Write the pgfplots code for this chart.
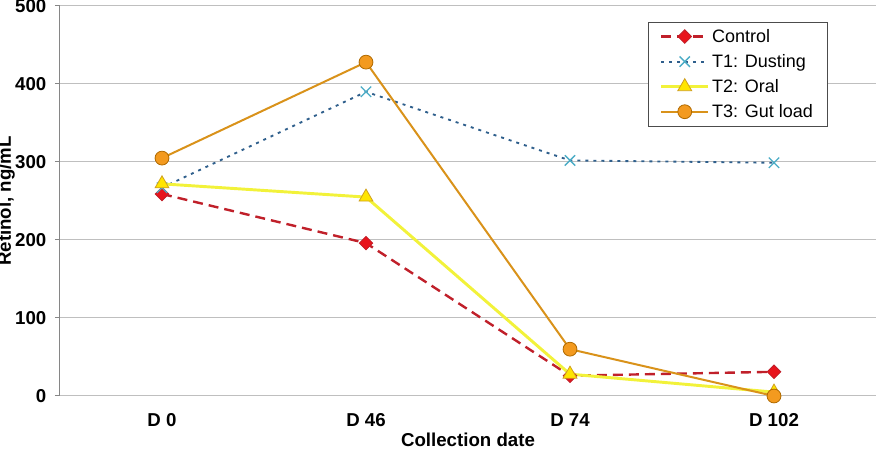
\documentclass[border=0pt]{standalone}
\usepackage{pgfplots}
\pgfplotsset{compat=1.18}
\usepackage{fontspec}
\setmainfont{Liberation Sans}
\definecolor{ctrlline}{HTML}{C0202A}
\definecolor{ctrlfill}{HTML}{E8141C}
\definecolor{tonel}{HTML}{2F5F8C}
\definecolor{tonem}{HTML}{4BACC6}
\definecolor{ttwol}{HTML}{F2F23A}
\definecolor{ttwof}{HTML}{FFE500}
\definecolor{ttwoe}{HTML}{D0A020}
\definecolor{tthrl}{HTML}{D9921A}
\definecolor{tthrf}{HTML}{F39A1F}
\definecolor{tthre}{HTML}{B06A00}
\definecolor{gridc}{HTML}{BFBFBF}
\definecolor{axc}{HTML}{868686}
\begin{document}
\begin{tikzpicture}
\begin{axis}[
  name=ax,
  scale only axis,
  width=612pt, height=292.5pt,
  xmin=0, xmax=4, ymin=0, ymax=500,
  xtick={0.5,1.5,2.5,3.5},
  xticklabels={D 0, D 46, D 74, D 102},
  ytick={0,100,200,300,400,500},
  axis y line*=left, axis x line*=bottom,
  x axis line style={draw=none},
  y axis line style={draw=axc, line width=0.75pt},
  ymajorgrids,
  grid style={draw=gridc, line width=0.75pt},
  tick align=outside,
  major tick length=3.75pt,
  xtick style={draw=none},
  ytick style={draw=axc, line width=0.75pt},
  /pgf/number format/assume math mode=true,
  ticklabel style={font=\fontsize{14}{16}\selectfont\bfseries},
  yticklabel style={xshift=-3pt},
  xticklabel style={yshift=-6pt},
  xlabel={Collection date},
  xlabel style={font=\fontsize{14}{16}\selectfont\bfseries, yshift=2pt},
  ylabel={Retinol, ng/mL},
  ylabel style={font=\fontsize{14}{16}\selectfont\bfseries, at={(axis description cs:-0.066,0.5)}, anchor=center},
  legend style={at={(rel axis cs:1,1)}, anchor=north east, xshift=-36pt, yshift=-12pt,
    draw=black!70, line width=0.6pt, font=\fontsize{13.5}{15}\selectfont,
    inner xsep=9pt, inner ysep=3pt, row sep=3.5pt},
  legend cell align=left,
  legend image code/.code={\draw[mark repeat=2,mark phase=2] plot coordinates {(0pt,0pt) (17.5pt,0pt) (35pt,0pt)};},
]
\addplot[ctrlline, line width=1.8pt, dash pattern=on 7.5pt off 4.5pt,
  mark=square*, mark size=3.6pt, mark options={solid, rotate=45, fill=ctrlfill, draw=ctrlline, line width=0.6pt}]
  coordinates {(0.5,259) (1.5,196) (2.5,26) (3.5,31)};
\addlegendentry{Control}
\addplot[tonel, line width=1.4pt, dash pattern=on 2.25pt off 3.75pt,
  mark=x, mark size=5.5pt, mark options={solid, draw=tonem, line width=1pt}]
  coordinates {(0.5,267) (1.5,390) (2.5,302) (3.5,299)};
\addlegendentry{T1: Dusting}
\addplot[ttwol, line width=2.2pt,
  mark=triangle*, mark size=6pt, mark options={fill=ttwof, draw=ttwoe, line width=0.6pt}]
  coordinates {(0.5,272) (1.5,255) (2.5,28) (3.5,5)};
\addlegendentry{T2: Oral}
\addplot[tthrl, line width=1.5pt,
  mark=*, mark size=5.2pt, mark options={fill=tthrf, draw=tthre, line width=0.6pt}]
  coordinates {(0.5,305) (1.5,428) (2.5,60) (3.5,0)};
\addlegendentry{T3: Gut load}
\end{axis}
\pgfresetboundingbox
\path ([xshift=-45pt,yshift=-49.5pt]ax.south west) rectangle ([xshift=1.5pt,yshift=4.5pt]ax.north east);
\end{tikzpicture}
\end{document}
